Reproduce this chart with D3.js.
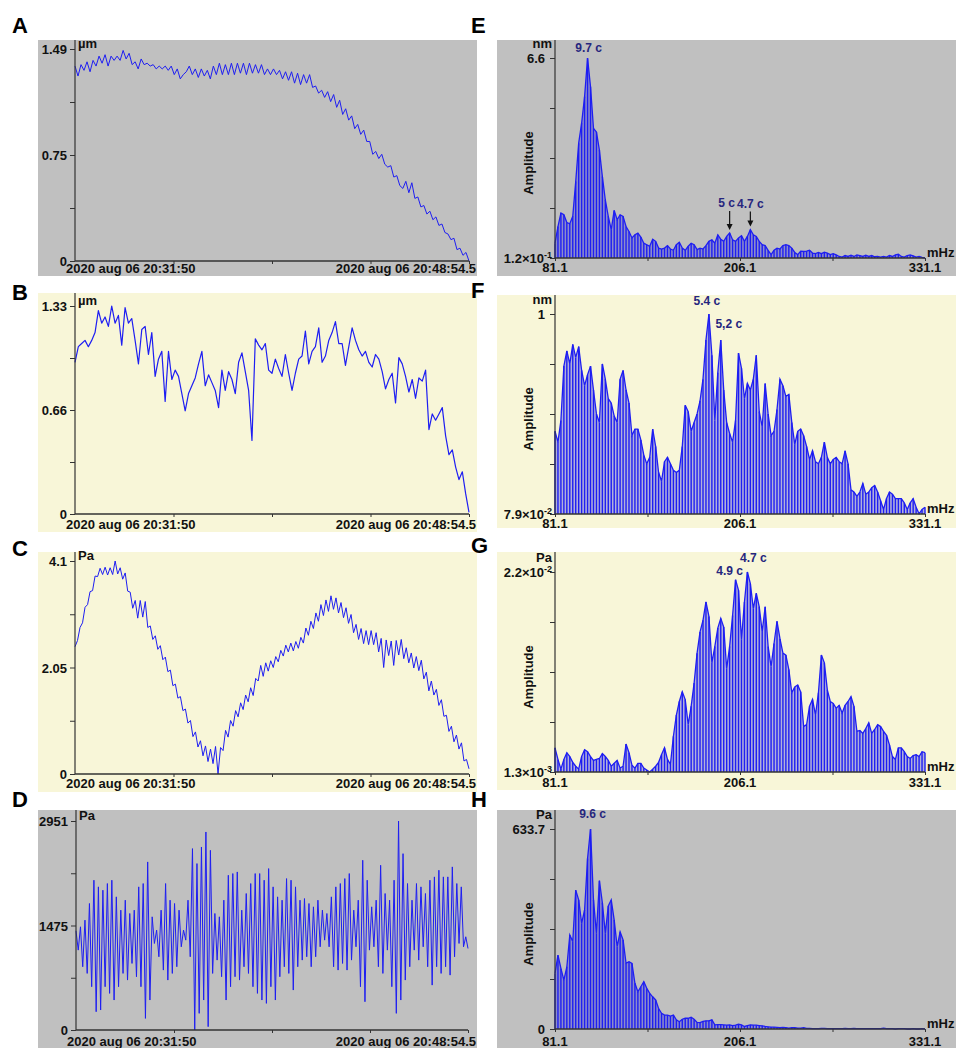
<!DOCTYPE html>
<html>
<head>
<meta charset="utf-8">
<script src="https://cdn.jsdelivr.net/npm/d3@7"></script>
<style>
body { margin: 0; background: #fff; }
svg text { font-family: Arial, "Liberation Sans", sans-serif; font-weight: bold; }
</style>
</head>
<body>
<div id="chart"></div>
<script>
// time axis of the recordings (left column)
const timeStart = new Date(2020, 7, 6, 20, 31, 50);
const timeEnd = new Date(2020, 7, 6, 20, 48, 54, 500);
const timeTickLabels = ["2020 aug 06 20:31:50", "2020 aug 06 20:48:54.5"];

// frequency axis of the spectra (right column), one bin every 2 mHz
const freqStart = 81.1;
const freqEnd = 331.1;
const freqTickLabels = ["81.1", "206.1", "331.1"];

// A - displacement, µm
const seriesA = [
  1.37,1.30,1.38,1.34,1.40,1.33,1.41,1.37,1.44,1.39,
  1.45,1.37,1.44,1.41,1.44,1.41,1.48,1.42,1.46,1.38,
  1.40,1.35,1.42,1.38,1.39,1.37,1.38,1.35,1.37,1.35,
  1.37,1.34,1.37,1.31,1.35,1.28,1.31,1.33,1.37,1.31,
  1.35,1.29,1.35,1.30,1.34,1.28,1.37,1.31,1.39,1.31,
  1.38,1.31,1.39,1.31,1.39,1.32,1.39,1.31,1.39,1.32,
  1.38,1.32,1.38,1.31,1.35,1.31,1.35,1.31,1.34,1.28,
  1.33,1.27,1.33,1.25,1.32,1.24,1.31,1.25,1.31,
  1.22,1.23,1.18,1.20,1.15,1.19,1.12,1.17,1.08,1.13,
  1.03,1.07,0.99,1.02,0.93,0.96,0.89,0.92,0.84,0.84,
  0.75,0.77,0.72,0.75,0.68,0.66,0.67,0.59,0.60,0.53,
  0.51,0.56,0.48,0.55,0.44,0.45,0.38,0.39,0.33,0.35,
  0.29,0.31,0.25,0.26,0.20,0.19,0.15,0.16,0.08,0.09,
  0.04,0.06,0.00
];

// B - displacement, µm
const seriesB = [
  0.97,1.07,1.09,1.11,1.07,1.11,1.16,1.30,1.22,1.26,
  1.20,1.33,1.22,1.27,1.08,1.32,1.22,1.25,1.11,0.96,
  1.18,1.20,1.02,1.16,0.88,0.99,1.04,0.72,1.04,0.86,
  0.92,0.88,0.77,0.66,0.77,0.82,0.87,0.96,1.04,0.82,
  0.89,0.84,0.79,0.68,0.92,0.79,0.91,0.86,0.77,0.97,
  1.03,0.91,0.79,0.47,1.12,1.08,1.05,1.09,0.92,0.90,
  0.99,0.93,0.88,1.02,0.90,0.79,0.90,0.99,1.01,1.17,
  0.96,1.04,1.07,1.19,0.97,1.01,1.11,1.16,1.23,1.09,
  1.09,0.95,1.07,1.19,1.11,1.05,1.01,1.04,0.97,0.94,
  1.02,0.99,0.91,0.80,0.86,0.90,0.71,1.00,0.96,0.88,
  0.78,0.86,0.74,0.87,0.85,0.92,0.54,0.64,0.60,0.64,
  0.68,0.50,0.38,0.41,0.30,0.22,0.27,0.13,0.01
];

// C - pressure, Pa
const seriesC = [
  2.45,2.57,2.82,2.91,3.21,3.26,3.51,3.53,3.81,3.80,
  3.96,3.84,3.98,3.83,3.97,3.84,4.10,3.85,3.97,3.75,
  3.87,3.52,3.50,3.19,3.34,3.00,3.34,3.02,3.32,2.82,
  2.85,2.59,2.66,2.40,2.47,2.20,2.25,1.97,2.00,1.70,
  1.73,1.46,1.49,1.22,1.25,0.98,1.03,0.72,0.81,0.52,
  0.64,0.35,0.54,0.24,0.48,0.20,0.53,0.00,0.51,0.45,
  0.84,0.71,1.03,0.92,1.22,1.10,1.37,1.24,1.52,1.39,
  1.66,1.51,1.84,1.79,2.09,1.88,2.14,1.98,2.18,2.05,
  2.26,2.16,2.38,2.27,2.48,2.35,2.52,2.37,2.55,2.42,
  2.63,2.52,2.81,2.67,2.94,2.80,3.10,2.94,3.26,3.05,
  3.35,3.13,3.43,3.17,3.39,3.10,3.30,3.01,3.20,2.90,
  3.07,2.72,2.88,2.59,2.80,2.51,2.76,2.49,2.76,2.49,
  2.72,2.35,2.61,2.05,2.58,2.28,2.56,2.09,2.57,2.29,
  2.59,2.22,2.43,2.14,2.33,2.04,2.26,1.99,2.19,1.83,
  1.96,1.60,1.79,1.52,1.63,1.32,1.43,1.11,1.13,0.82,
  0.92,0.62,0.75,0.48,0.60,0.25,0.28,0.10
];

// D - pressure, Pa
const seriesD = [
  1400,1128,1457,893,1551,799,1786,611,2115,258,
  2021,282,1974,611,2068,517,2115,423,1880,611,
  1692,799,1833,705,1645,940,1692,752,2021,611,
  2068,164,2373,423,1598,1222,1410,1034,1692,846,
  2068,705,1833,799,1786,893,1692,1175,1410,1269,
  1833,1034,2561,0,2350,235,2584,423,2796,47,
  2537,799,1645,987,1598,752,1833,423,2185,611,
  2209,752,2232,705,1692,893,1927,799,2068,611,
  2209,517,2209,423,2115,376,2279,611,2021,423,
  1880,752,1833,893,2138,799,2115,564,2021,893,
  1833,987,1856,1034,1786,893,1739,1034,1833,1175,
  1692,1269,1645,1175,1880,893,2021,846,2068,940,
  2138,846,2209,987,1692,1175,1833,611,2397,399,
  2115,1128,1739,1175,1833,893,2326,799,1927,1128,
  1833,611,2115,235,2951,423,2490,705,2068,893,
  1833,1128,2068,987,2021,1175,1927,893,2115,634,
  2162,893,2256,799,2162,893,2162,775,2303,1034,
  2068,1222,2021,1175,1316,1151
];

// E - amplitude spectrum, nm
const spectrumE = [
  0.60,1.14,1.58,1.52,1.27,1.23,1.47,2.60,3.84,4.49,
  5.35,6.60,5.67,4.32,4.20,3.62,2.76,2.00,1.47,1.04,
  1.66,1.36,1.52,1.47,1.14,0.98,0.77,0.87,0.93,0.80,
  0.60,0.55,0.50,0.73,0.66,0.44,0.41,0.44,0.52,0.41,
  0.37,0.55,0.63,0.44,0.37,0.50,0.60,0.55,0.39,0.44,
  0.41,0.52,0.66,0.71,0.60,0.87,0.73,0.66,0.82,0.93,
  0.71,0.66,0.77,0.84,0.66,0.82,1.04,0.87,0.82,0.66,
  0.55,0.52,0.37,0.23,0.37,0.44,0.41,0.52,0.55,0.52,
  0.44,0.30,0.23,0.34,0.33,0.34,0.37,0.28,0.26,0.30,
  0.26,0.31,0.28,0.23,0.26,0.22,0.17,0.15,0.20,0.17,
  0.21,0.17,0.22,0.20,0.17,0.21,0.17,0.20,0.16,0.17,
  0.15,0.17,0.15,0.20,0.17,0.22,0.24,0.17,0.15,0.20,
  0.22,0.19,0.15,0.17,0.14,0.12
];

// F - amplitude spectrum, nm
const spectrumF = [
  0.46,0.41,0.51,0.76,0.83,0.77,0.86,0.80,0.85,0.74,
  0.67,0.72,0.76,0.65,0.54,0.50,0.77,0.70,0.61,0.59,
  0.53,0.50,0.70,0.74,0.65,0.59,0.44,0.47,0.47,0.42,
  0.35,0.31,0.34,0.47,0.39,0.27,0.23,0.32,0.34,0.31,
  0.28,0.27,0.28,0.39,0.58,0.55,0.46,0.50,0.54,0.60,
  0.70,0.88,1.00,0.81,0.51,0.73,0.88,0.65,0.50,0.45,
  0.41,0.51,0.82,0.75,0.61,0.68,0.65,0.70,0.81,0.55,
  0.48,0.68,0.54,0.44,0.46,0.56,0.70,0.67,0.62,0.63,
  0.50,0.40,0.46,0.47,0.44,0.39,0.33,0.37,0.32,0.31,
  0.34,0.41,0.34,0.31,0.33,0.34,0.32,0.31,0.37,0.31,
  0.19,0.18,0.16,0.18,0.22,0.17,0.18,0.20,0.21,0.18,
  0.14,0.10,0.15,0.18,0.17,0.15,0.15,0.15,0.13,0.10,
  0.13,0.15,0.11,0.08,0.10,0.11
];

// G - amplitude spectrum, Pa
const spectrumG = [
  0.0038,0.0026,0.0016,0.0026,0.0033,0.0029,0.0023,0.0019,0.0016,0.0029,
  0.0036,0.0034,0.0029,0.0025,0.0026,0.0027,0.0032,0.0029,0.0025,0.0019,
  0.0022,0.0025,0.0017,0.0019,0.0042,0.0033,0.0020,0.0017,0.0022,0.0022,
  0.0017,0.0015,0.0013,0.0016,0.0019,0.0023,0.0031,0.0038,0.0026,0.0021,
  0.0050,0.0072,0.0086,0.0096,0.0088,0.0062,0.0081,0.0105,0.0136,0.0158,
  0.0170,0.0189,0.0174,0.0126,0.0143,0.0162,0.0172,0.0163,0.0120,0.0143,
  0.0175,0.0212,0.0201,0.0150,0.0189,0.0220,0.0208,0.0182,0.0198,0.0184,
  0.0158,0.0184,0.0143,0.0122,0.0146,0.0169,0.0151,0.0136,0.0134,0.0119,
  0.0095,0.0101,0.0103,0.0096,0.0060,0.0062,0.0081,0.0088,0.0072,0.0095,
  0.0134,0.0126,0.0098,0.0086,0.0084,0.0079,0.0082,0.0074,0.0082,0.0086,
  0.0091,0.0081,0.0055,0.0056,0.0053,0.0058,0.0064,0.0053,0.0057,0.0062,
  0.0060,0.0055,0.0051,0.0041,0.0029,0.0026,0.0038,0.0038,0.0034,0.0029,
  0.0027,0.0030,0.0031,0.0029,0.0034,0.0033
];

// H - amplitude spectrum, Pa
const spectrumH = [
  176,234,192,155,197,298,277,440,409,335,
  377,540,633.7,409,303,470,400,303,390,409,
  345,261,308,282,208,213,208,145,118,134,
  150,129,113,102,92,65,50,44,44,41,
  44,29,23,31,34,34,37,31,21,20,
  24,26,26,29,13,14,14,13,12,13,
  11,12,15,13,8,11,13,12,12,11,
  10,8,7,6,6,5,4,5,4,3,
  4,4,3,3,4,2,2,1,1,1,
  2,2,1,1,1,1,1,1,2,1,
  1,2,1,1,1,1,1,1,1,1,
  1,3,1,1,1,0,1,1,1,0,
  0,1,0,0,1,0
];

// peak labels on the spectra
const notesE = [{text: "9.7 c", bin: 11, dx: 1, dy: -6}, {text: "5 c", bin: 59, dx: -3, dy: -26, arrow: true}, {text: "4.7 c", bin: 66, dx: 0, dy: -22, arrow: true}];
const notesF = [{text: "5.4 c", bin: 52, dx: -2, dy: -9}, {text: "5,2 c", bin: 56, dx: 8, dy: -12}];
const notesG = [{text: "4.9 c", bin: 61, dx: -6, dy: -5}, {text: "4.7 c", bin: 65, dx: 6, dy: -10}];
const notesH = [{text: "9.6 c", bin: 12, dx: 2, dy: -11}];

const grayBg = "#c0c0c0";
const yellowBg = "#f8f6d8";
const blue = "#1e1ef2";
const axisColor = "#333";

const seriesPanels = [
  {letter: "A", letterY: 33, box: [38, 40, 477, 276], bg: grayBg, x0: 75, x1: 469, yTop: 49, yBot: 261, unit: "µm", yDomain: [0, 1.49], yLabels: ["0", "0.75", "1.49"], labelY: 273, values: seriesA, width: 1},
  {letter: "B", letterY: 300, box: [38, 293, 477, 532], bg: yellowBg, x0: 75, x1: 469, yTop: 306, yBot: 514, unit: "µm", yDomain: [0, 1.33], yLabels: ["0", "0.66", "1.33"], labelY: 529, values: seriesB, width: 1.2},
  {letter: "C", letterY: 556, box: [38, 552, 477, 792], bg: yellowBg, x0: 75, x1: 469, yTop: 561, yBot: 774, unit: "Pa", yDomain: [0, 4.1], yLabels: ["0", "2.05", "4.1"], labelY: 788, values: seriesC, width: 1},
  {letter: "D", letterY: 807, box: [38, 810, 477, 1048], bg: grayBg, x0: 76, x1: 468, yTop: 821, yBot: 1030, unit: "Pa", yDomain: [0, 2951], yLabels: ["0", "1475", "2951"], labelY: 1046, values: seriesD, width: 1}
];

const spectrumPanels = [
  {letter: "E", letterY: 33, box: [497, 40, 956, 276], bg: grayBg, x0: 555, x1: 925, yTop: 58, yBot: 258, unit: "nm", yDomain: [0.12, 6.6], yLabels: ["1.2×10^-1", "6.6"], labelY: 272, values: spectrumE, notes: notesE},
  {letter: "F", letterY: 298, box: [497, 295, 956, 528], bg: yellowBg, x0: 555, x1: 925, yTop: 314, yBot: 514, unit: "nm", yDomain: [0.079, 1], yLabels: ["7.9×10^-2", "1"], labelY: 528, values: spectrumF, notes: notesF},
  {letter: "G", letterY: 553, box: [497, 552, 956, 790], bg: yellowBg, x0: 555, x1: 925, yTop: 572, yBot: 772, unit: "Pa", yDomain: [0.0013, 0.022], yLabels: ["1.3×10^-3", "2.2×10^-2"], labelY: 787, values: spectrumG, notes: notesG},
  {letter: "H", letterY: 807, box: [497, 810, 956, 1048], bg: grayBg, x0: 555, x1: 925, yTop: 829, yBot: 1029, unit: "Pa", yDomain: [0, 633.7], yLabels: ["0", "633.7"], labelY: 1046, values: spectrumH, notes: notesH}
];

const svg = d3.select("#chart").append("svg")
  .attr("width", 956)
  .attr("height", 1048);

function addLabel(g, label, x, y, anchor) {
  const parts = label.split("^");
  const t = g.append("text")
    .attr("x", x)
    .attr("y", y)
    .attr("text-anchor", anchor)
    .attr("font-size", 13)
    .attr("fill", "#111");
  t.append("tspan").text(parts[0]);
  if (parts.length > 1) {
    t.append("tspan").attr("dy", -5).attr("font-size", 9).text(parts[1]);
  }
  return t;
}

// background, letter and left ticks, shared by every panel
function drawFrame(p, y) {
  const g = svg.append("g");
  g.append("rect")
    .attr("x", p.box[0]).attr("y", p.box[1])
    .attr("width", p.box[2] - p.box[0]).attr("height", p.box[3] - p.box[1])
    .attr("fill", p.bg);
  svg.append("text")
    .attr("x", p.box[0] - 26)
    .attr("y", p.letterY)
    .attr("font-size", 22)
    .attr("fill", "#000")
    .text(p.letter);

  const d = p.yDomain;
  const yTicks = d3.range(5).map(i => d[0] + i * (d[1] - d[0]) / 4);
  const yAxis = g.append("g")
    .attr("transform", `translate(${p.x0},0)`)
    .call(d3.axisLeft(y).tickValues(yTicks).tickSize(5).tickFormat(""));
  yAxis.select(".domain").remove();
  yAxis.selectAll("line").attr("stroke", axisColor);
  return g;
}

function drawAxesLines(g, p) {
  g.append("line")
    .attr("x1", p.x0).attr("x2", p.x0)
    .attr("y1", p.box[1]).attr("y2", p.yBot)
    .attr("stroke", axisColor).attr("stroke-width", 1.2);
  g.append("line")
    .attr("x1", p.x0).attr("x2", p.x1)
    .attr("y1", p.yBot).attr("y2", p.yBot)
    .attr("stroke", axisColor).attr("stroke-width", 1.5);
}

function drawSeriesPanel(p) {
  const x = d3.scaleTime().domain([timeStart, timeEnd]).range([p.x0, p.x1]);
  const y = d3.scaleLinear().domain(p.yDomain).range([p.yBot, p.yTop]);
  const g = drawFrame(p, y);
  const step = (timeEnd - timeStart) / (p.values.length - 1);
  const points = p.values.map((v, i) => ({t: new Date(timeStart.getTime() + i * step), v: v}));

  const span = timeEnd - timeStart;
  const xTicks = [0.25, 0.5, 0.75, 1].map(f => new Date(timeStart.getTime() + f * span));
  const xAxis = g.append("g")
    .attr("transform", `translate(0,${p.yBot})`)
    .call(d3.axisBottom(x).tickValues(xTicks).tickSize(3).tickFormat(""));
  xAxis.select(".domain").remove();
  xAxis.selectAll("line").attr("stroke", axisColor);

  g.append("path")
    .datum(points)
    .attr("fill", "none")
    .attr("stroke", blue)
    .attr("stroke-width", p.width)
    .attr("stroke-linejoin", "round")
    .attr("d", d3.line().x(d => x(d.t)).y(d => y(d.v)));

  drawAxesLines(g, p);

  const mid = (p.yDomain[0] + p.yDomain[1]) / 2;
  [p.yDomain[0], mid, p.yDomain[1]].forEach((v, i) => {
    addLabel(g, p.yLabels[i], p.x0 - 8, y(v) + 5, "end");
  });
  g.append("text")
    .attr("x", p.x0 + 3).attr("y", p.yTop - 1)
    .attr("font-size", 13).attr("fill", "#111")
    .text(p.unit);
  addLabel(g, timeTickLabels[0], p.x0 - 9, p.labelY, "start");
  addLabel(g, timeTickLabels[1], p.box[2] - 1, p.labelY, "end");
}

function drawSpectrumPanel(p) {
  const x = d3.scaleLinear().domain([freqStart, freqEnd]).range([p.x0, p.x1]);
  const y = d3.scaleLinear().domain(p.yDomain).range([p.yBot, p.yTop]);
  const g = drawFrame(p, y);
  const binWidth = (freqEnd - freqStart) / (p.values.length - 1);
  const bins = p.values.map((v, i) => ({f: freqStart + i * binWidth, v: v}));

  const xAxis = g.append("g")
    .attr("transform", `translate(0,${p.yBot})`)
    .call(d3.axisBottom(x).tickValues(d3.range(5).map(i => freqStart + i * (freqEnd - freqStart) / 4)).tickSize(3).tickFormat(""));
  xAxis.select(".domain").remove();
  xAxis.selectAll("line").attr("stroke", axisColor);

  g.append("path")
    .datum(bins)
    .attr("fill", "rgba(40,40,225,0.34)")
    .attr("d", d3.area().x(d => x(d.f)).y0(p.yBot).y1(d => y(d.v)));

  g.selectAll(".bar")
    .data(bins)
    .enter()
    .append("line")
    .attr("class", "bar")
    .attr("x1", d => x(d.f)).attr("x2", d => x(d.f))
    .attr("y1", p.yBot).attr("y2", d => y(d.v))
    .attr("stroke", blue)
    .attr("stroke-width", 1.4);

  g.append("path")
    .datum(bins)
    .attr("fill", "none")
    .attr("stroke", blue)
    .attr("stroke-width", 1.3)
    .attr("d", d3.line().x(d => x(d.f)).y(d => y(d.v)));

  drawAxesLines(g, p);

  addLabel(g, p.yLabels[0], p.yLabels[0].includes("^") ? p.x0 - 3 : p.x0 - 10, p.yBot + 5, "end");
  addLabel(g, p.yLabels[1], p.yLabels[1].includes("^") ? p.x0 - 3 : p.x0 - 10, p.yTop + 5, "end");
  g.append("text")
    .attr("x", p.x0 - 3).attr("y", p.yTop - 10)
    .attr("text-anchor", "end")
    .attr("font-size", 13).attr("fill", "#111")
    .text(p.unit);
  g.append("text")
    .attr("x", p.x1 + 2).attr("y", p.yBot - 1)
    .attr("font-size", 13).attr("fill", "#111")
    .text("mHz");
  g.append("text")
    .attr("transform", `translate(533,${(p.yTop + p.yBot) / 2 + 5}) rotate(-90)`)
    .attr("text-anchor", "middle")
    .attr("font-size", 13).attr("fill", "#111")
    .text("Amplitude");

  [0, 2, 4].forEach((k, i) => {
    addLabel(g, freqTickLabels[i], x(freqStart + k * (freqEnd - freqStart) / 4), p.labelY, "middle");
  });

  p.notes.forEach(n => {
    const b = bins[n.bin];
    const px = x(b.f), py = y(b.v);
    g.append("text")
      .attr("x", px + n.dx).attr("y", py + n.dy)
      .attr("text-anchor", "middle")
      .attr("font-size", 12)
      .attr("fill", "#26267e")
      .text(n.text);
    if (n.arrow) {
      g.append("line")
        .attr("x1", px).attr("x2", px)
        .attr("y1", py + n.dy + 4).attr("y2", py - 8)
        .attr("stroke", "#111").attr("stroke-width", 1.2);
      g.append("path")
        .attr("d", `M${px - 3},${py - 9} L${px + 3},${py - 9} L${px},${py - 3} Z`)
        .attr("fill", "#111");
    }
  });
}

seriesPanels.forEach(drawSeriesPanel);
spectrumPanels.forEach(drawSpectrumPanel);
</script>
</body>
</html>
